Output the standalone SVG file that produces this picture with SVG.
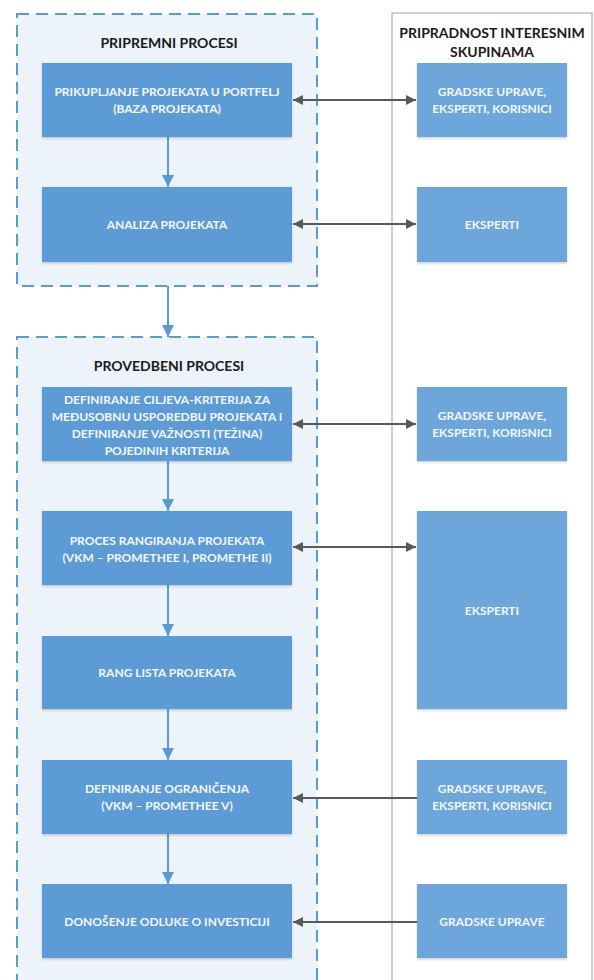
<svg xmlns="http://www.w3.org/2000/svg" width="594" height="980" viewBox="0 0 594 980">
<defs>
<style>
.cont{fill:#EDF3FA;stroke:#5B9BD5;stroke-width:2;stroke-dasharray:12 7}
.rc{fill:#FFFFFF;stroke:#BFBFBF;stroke-width:1.5}
.lb{fill:#5B9BD5}
.rb{fill:#6CA6DA}
.t{font-family:Lato,"Open Sans","Liberation Sans",sans-serif;font-weight:bold;font-size:12px;fill:#F4F8FC;text-anchor:middle}
.h{font-family:Lato,"Open Sans","Liberation Sans",sans-serif;font-weight:bold;font-size:14px;fill:#1A1A1A;text-anchor:middle}
.fl{stroke:#5B9BD5;stroke-width:2;fill:none}
.gl{stroke:#595959;stroke-width:2;fill:none}
</style>
<marker id="ba" viewBox="0 0 10 10" refX="10" refY="5" markerWidth="6" markerHeight="6" markerUnits="strokeWidth" orient="auto">
<path d="M0,0 L10,5 L0,10 z" fill="#5B9BD5"/>
</marker>
<marker id="ga" viewBox="0 0 10 10" refX="10" refY="5" markerWidth="6" markerHeight="5" markerUnits="strokeWidth" orient="auto-start-reverse">
<path d="M0,0 L10,5 L0,10 z" fill="#595959"/>
</marker>
<filter id="sh" x="-5%" y="-5%" width="110%" height="115%">
<feDropShadow dx="0" dy="1.5" stdDeviation="1.2" flood-color="#000" flood-opacity="0.18"/>
</filter>
</defs>
<rect x="0" y="0" width="594" height="980" fill="#FFFFFF"/>

<g id="interest-groups">
<rect class="rc" x="392" y="13" width="200" height="980"/>
<text class="h" x="492" y="38">PRIPRADNOST INTERESNIM</text>
<text class="h" x="492" y="57">SKUPINAMA</text>
</g>

<g id="pripremni">
<rect class="cont" x="17" y="14" width="300" height="272"/>
<text class="h" x="169" y="48">PRIPREMNI PROCESI</text>
</g>

<g id="provedbeni">
<rect class="cont" x="17" y="337" width="300" height="680"/>
<text class="h" x="169" y="371">PROVEDBENI PROCESI</text>
</g>

<g id="connectors">
<line class="fl" x1="168" y1="137" x2="168" y2="187" marker-end="url(#ba)"/>
<line class="fl" x1="168" y1="286" x2="168" y2="337" marker-end="url(#ba)"/>
<line class="fl" x1="168" y1="461" x2="168" y2="511" marker-end="url(#ba)"/>
<line class="fl" x1="168" y1="585" x2="168" y2="636" marker-end="url(#ba)"/>
<line class="fl" x1="168" y1="709" x2="168" y2="760" marker-end="url(#ba)"/>
<line class="fl" x1="168" y1="834" x2="168" y2="884" marker-end="url(#ba)"/>
<line class="gl" x1="293" y1="100" x2="416" y2="100" marker-start="url(#ga)" marker-end="url(#ga)"/>
<line class="gl" x1="293" y1="224" x2="416" y2="224" marker-start="url(#ga)" marker-end="url(#ga)"/>
<line class="gl" x1="293" y1="424" x2="416" y2="424" marker-start="url(#ga)" marker-end="url(#ga)"/>
<line class="gl" x1="293" y1="547" x2="416" y2="547" marker-start="url(#ga)" marker-end="url(#ga)"/>
<line class="gl" x1="417" y1="798" x2="293" y2="798" marker-end="url(#ga)"/>
<line class="gl" x1="417" y1="922" x2="293" y2="922" marker-end="url(#ga)"/>
</g>

<g id="prikupljanje">
<rect class="lb" x="42" y="63" width="250" height="74" filter="url(#sh)"/>
<text class="t" x="167" y="96">PRIKUPLJANJE PROJEKATA U PORTFELJ</text>
<text class="t" x="167" y="113">(BAZA PROJEKATA)</text>
</g>
<g id="analiza">
<rect class="lb" x="42" y="187" width="250" height="75" filter="url(#sh)"/>
<text class="t" x="167" y="229">ANALIZA PROJEKATA</text>
</g>
<g id="definiranje-ciljeva">
<rect class="lb" x="42" y="387" width="250" height="74" filter="url(#sh)"/>
<text class="t" x="167" y="404">DEFINIRANJE CILJEVA-KRITERIJA ZA</text>
<text class="t" x="167" y="421">MEĐUSOBNU USPOREDBU PROJEKATA I</text>
<text class="t" x="167" y="438">DEFINIRANJE VAŽNOSTI (TEŽINA)</text>
<text class="t" x="167" y="455">POJEDINIH KRITERIJA</text>
</g>
<g id="rangiranje">
<rect class="lb" x="42" y="511" width="250" height="74" filter="url(#sh)"/>
<text class="t" x="167" y="545">PROCES RANGIRANJA PROJEKATA</text>
<text class="t" x="167" y="562">(VKM – PROMETHEE I, PROMETHE II)</text>
</g>
<g id="rang-lista">
<rect class="lb" x="42" y="636" width="250" height="73" filter="url(#sh)"/>
<text class="t" x="167" y="677">RANG LISTA PROJEKATA</text>
</g>
<g id="ogranicenja">
<rect class="lb" x="42" y="760" width="250" height="74" filter="url(#sh)"/>
<text class="t" x="167" y="793">DEFINIRANJE OGRANIČENJA</text>
<text class="t" x="167" y="810">(VKM – PROMETHEE V)</text>
</g>
<g id="odluka">
<rect class="lb" x="42" y="884" width="250" height="74" filter="url(#sh)"/>
<text class="t" x="167" y="926">DONOŠENJE ODLUKE O INVESTICIJI</text>
</g>

<g id="r-gradske-1">
<rect class="rb" x="417" y="63" width="150" height="74" filter="url(#sh)"/>
<text class="t" x="492" y="96">GRADSKE UPRAVE,</text>
<text class="t" x="492" y="113">EKSPERTI, KORISNICI</text>
</g>
<g id="r-eksperti-1">
<rect class="rb" x="417" y="187" width="150" height="75" filter="url(#sh)"/>
<text class="t" x="492" y="229">EKSPERTI</text>
</g>
<g id="r-gradske-2">
<rect class="rb" x="417" y="387" width="150" height="74" filter="url(#sh)"/>
<text class="t" x="492" y="420">GRADSKE UPRAVE,</text>
<text class="t" x="492" y="437">EKSPERTI, KORISNICI</text>
</g>
<g id="r-eksperti-2">
<rect class="rb" x="417" y="511" width="150" height="198" filter="url(#sh)"/>
<text class="t" x="492" y="615">EKSPERTI</text>
</g>
<g id="r-gradske-3">
<rect class="rb" x="417" y="760" width="150" height="74" filter="url(#sh)"/>
<text class="t" x="492" y="793">GRADSKE UPRAVE,</text>
<text class="t" x="492" y="810">EKSPERTI, KORISNICI</text>
</g>
<g id="r-gradske-4">
<rect class="rb" x="417" y="884" width="150" height="74" filter="url(#sh)"/>
<text class="t" x="492" y="926">GRADSKE UPRAVE</text>
</g>
</svg>
